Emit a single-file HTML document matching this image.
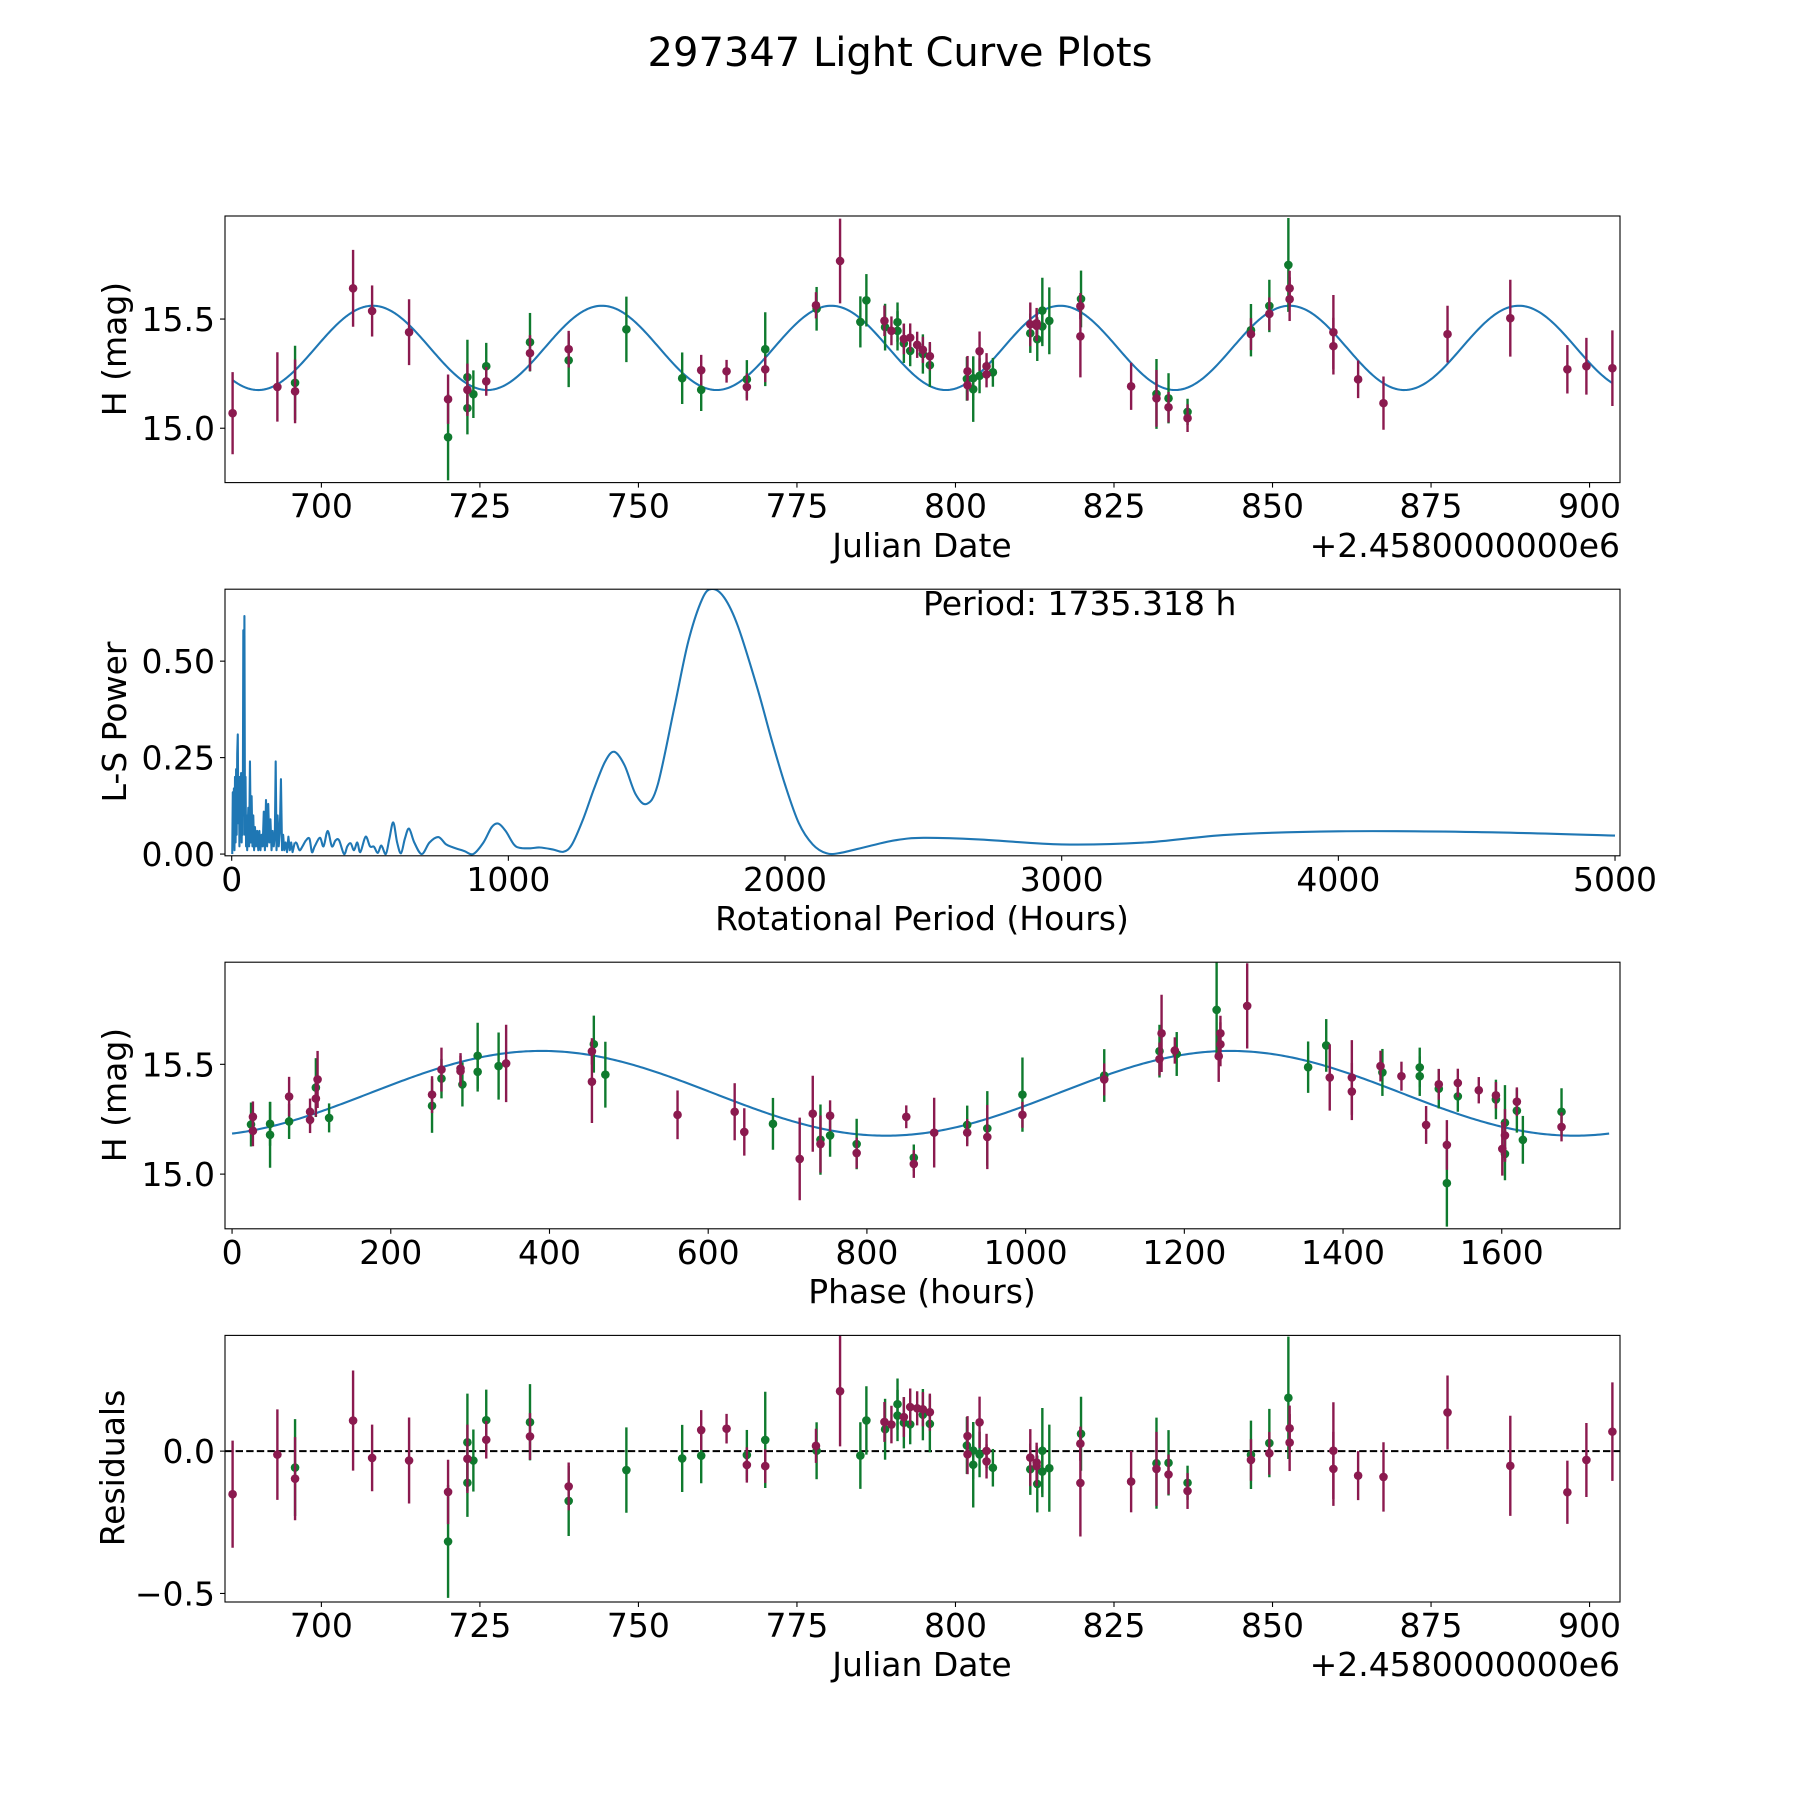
<!DOCTYPE html>
<html><head><meta charset="utf-8"><title>297347 Light Curve Plots</title>
<style>
html,body{margin:0;padding:0;background:#fff;}
svg{display:block;font-family:"DejaVu Sans","Liberation Sans",sans-serif;}
</style></head>
<body>
<svg id="fig" width="1800" height="1800" viewBox="0 0 1800 1800" xmlns="http://www.w3.org/2000/svg">
<rect width="1800" height="1800" fill="#fff"/>
<text x="900" y="66" font-size="40" text-anchor="middle">297347 Light Curve Plots</text>
</svg>
<script>
// ---- observation data (Julian Date offset, H mag, error, band) ----
const obsT   = [686.0,693.06,695.85,695.85,705.0,708.0,713.83,719.98,719.98,723.03,723.03,723.03,723.97,726.0,726.0,732.9,732.9,739.0,739.0,748.1,756.9,
759.9,759.9,763.9,767.1,767.1,770.0,770.0,778.0,778.1,781.8,785.0,785.95,788.8,788.9,789.9,790.86,790.86,791.86,791.86,792.86,792.86,793.96,794.86,794.86,795.96,795.96,
801.9,801.8,801.9,802.8,802.8,803.8,803.8,804.9,804.9,805.9,811.8,811.8,812.8,812.8,812.9,813.7,813.7,814.8,819.8,819.7,819.7,827.7,831.7,831.7,
833.6,833.6,836.6,836.6,846.6,846.6,849.5,849.5,852.5,852.7,852.7,859.6,859.6,863.5,867.5,877.6,887.5,896.5,899.5,903.6];
const obsMag = [15.069,15.189,15.208,15.169,15.641,15.537,15.44,15.133,14.959,15.234,15.176,15.092,15.156,15.284,15.215,15.394,15.344,15.362,15.311,15.453,15.229,
15.266,15.176,15.261,15.224,15.189,15.362,15.27,15.563,15.547,15.766,15.487,15.586,15.492,15.463,15.446,15.486,15.446,15.409,15.389,15.415,15.354,15.382,15.359,15.34,15.33,15.289,
15.261,15.226,15.197,15.229,15.179,15.353,15.24,15.284,15.247,15.256,15.476,15.435,15.481,15.469,15.408,15.539,15.466,15.492,15.592,15.559,15.421,15.192,15.157,15.137,
15.137,15.096,15.075,15.046,15.449,15.431,15.56,15.524,15.748,15.641,15.591,15.44,15.376,15.224,15.115,15.431,15.504,15.27,15.284,15.275];
const obsErr = [0.188,0.159,0.17,0.146,0.176,0.117,0.151,0.113,0.198,0.171,0.12,0.12,0.109,0.107,0.066,0.134,0.082,0.084,0.123,0.15,0.118,
0.07,0.097,0.052,0.088,0.062,0.169,0.059,0.06,0.1,0.194,0.117,0.12,0.07,0.107,0.066,0.09,0.09,0.07,0.09,0.065,0.07,0.06,0.06,0.09,0.065,0.1,
0.07,0.1,0.07,0.1,0.15,0.09,0.08,0.06,0.06,0.066,0.1,0.09,0.07,0.07,0.1,0.15,0.09,0.153,0.13,0.06,0.188,0.108,0.16,0.13,
0.115,0.07,0.06,0.063,0.12,0.073,0.12,0.075,0.215,0.08,0.1,0.17,0.13,0.086,0.122,0.13,0.176,0.111,0.13,0.173];
const obsBand = ["M","M","G","M","M","M","M","M","G","G","M","G","G","G","M","G","M","M","G","G","G",
"M","G","M","G","M","G","M","M","G","M","G","G","M","G","M","G","G","M","G","M","G","M","M","G","M","G",
"M","G","M","G","G","M","G","M","M","G","M","G","M","M","G","G","G","G","G","M","M","M","G","M",
"G","M","G","M","G","M","G","M","G","M","M","M","M","M","M","M","M","M","M","M"];
// ---- model parameters ----
const periodHours = 1735.318;
const modelMean = 15.368, modelAmp = 0.193, modelEpoch = 708.1, phaseRef = 728.5, curvePeakPhase = 390;
// ---- Lomb-Scargle periodogram samples ----
const lsPeriod = [2,4,6,8,10,12,14,16,18,20,22,24,26,28,30,32,34,36,38,40,42,44,46,48,50,52,54,56,60,63,66,69,72,75,78,81,84,88,92,96,100,104,108,112,116,120,124,128,132,136,140,144,148,152,156,159,162,166,170,174,178,182,186,190,195,200,205,210,215,220,228,
235,245,256,268,281,290,300,319,332,347,362,375,388,406,418,430,442,454,465,484,500,514,528,541,557,570,584,598,612,626,641,660,687,715,747,775,801,840,873,910,940,964,990,1020,1042,1080,1114,1160,1199,1230,1270,1310,1350,1383,1420,1460,1500,1540,1600,1650,1700,1735,1780,1830,1900,1950,2000,2050,2100,2150,2200,2300,2400,2500,2700,3000,3300,3600,4000,4500,5000];
const lsPower = [0.0,0.16,0.02,0.17,0.01,0.2,0.03,0.22,0.05,0.26,0.31,0.08,0.2,0.02,0.2,0.1,0.21,0.03,0.15,0.05,0.58,0.1,0.617,0.05,0.2,0.02,0.1,0.01,0.12,0.02,0.24,0.03,0.15,0.02,0.1,0.01,0.07,0.02,0.06,0.01,0.06,0.01,0.05,0.02,0.11,0.01,0.14,0.02,0.13,0.03,0.09,0.01,0.06,0.02,0.05,0.24,0.01,0.1,0.02,0.06,0.194,0.01,0.05,0.01,0.03,0.005,0.045,0.01,0.03,0.005,0.03,
0.028,0.01,0.02,0.035,0.04,0.005,0.02,0.042,0.02,0.06,0.02,0.035,0.036,0.0,0.02,0.028,0.01,0.03,0.005,0.045,0.02,0.019,0.003,0.022,0.0,0.04,0.082,0.03,0.002,0.04,0.066,0.03,0.0,0.03,0.044,0.025,0.017,0.008,0.0,0.03,0.07,0.079,0.06,0.025,0.016,0.015,0.017,0.012,0.006,0.025,0.09,0.17,0.24,0.265,0.23,0.155,0.13,0.18,0.38,0.55,0.66,0.687,0.665,0.59,0.43,0.3,0.18,0.08,0.025,0.002,0.003,0.02,0.036,0.042,0.038,0.025,0.03,0.05,0.059,0.057,0.048];
const jdTicks = [700,725,750,775,800,825,850,875,900];
const lsXTicks = [0,1000,2000,3000,4000,5000];
const lsYTicks = [0,0.25,0.5];
const lsYTickLabels = ["0.00","0.25","0.50"];
const phTicks = [0,200,400,600,800,1000,1200,1400,1600];
const magTicks = [15.0,15.5];
const resTicks = [-0.5,0.0];
const resTickLabels = ["\u22120.5","0.0"];

const NS = "http://www.w3.org/2000/svg";
const svg = document.getElementById("fig");
const BLUE = "#1f77b4", MAG = "#8b1a4f", GRN = "#0f7a2e";
function mk(tag, attrs, parent){ const e=document.createElementNS(NS,tag); for(const k in attrs) e.setAttribute(k,attrs[k]); (parent||svg).appendChild(e); return e; }
function model(t){ return modelMean + modelAmp*Math.cos(2*Math.PI*(t-modelEpoch)/(periodHours/48)); }
function phaseOf(t){ let p=((t-phaseRef)*24)%periodHours; if(p<0)p+=periodHours; return p; }
function modelPhase(p){ return modelMean + modelAmp*Math.cos(4*Math.PI*(p-curvePeakPhase)/periodHours); }

const L=225, R=1620;
function makeAxes(name, top, bottom, xmin, xmax, ymin, ymax){
  const ax={top,bottom,xs:v=>L+(v-xmin)/(xmax-xmin)*(R-L), ys:v=>bottom-(v-ymin)/(ymax-ymin)*(bottom-top)};
  const g=mk("g",{});
  
  
  const cid="clip-"+name;
  const cp=mk("clipPath",{id:cid},g); mk("rect",{x:L,y:top,width:R-L,height:bottom-top},cp);
  ax.g=g; ax.plot=mk("g",{"clip-path":"url(#"+cid+")"},g);
  return ax;
}
function frame(ax){ const r=mk("rect",{x:L,y:ax.top,width:R-L,height:ax.bottom-ax.top,fill:"none",stroke:"#000","stroke-width":1.1},ax.g);   }
function xticks(ax, vals, labels, name){
  vals.forEach((v,i)=>{ const x=ax.xs(v);
    mk("line",{x1:x,x2:x,y1:ax.bottom,y2:ax.bottom+5,stroke:"#000","stroke-width":1.1},ax.g);
    const t=mk("text",{x:x,y:ax.bottom+35,"font-size":33,"text-anchor":"middle"},ax.g); t.textContent=labels[i];
    
    
  });
}
function yticks(ax, vals, labels, name){
  vals.forEach((v,i)=>{ const y=ax.ys(v);
    mk("line",{x1:L-5,x2:L,y1:y,y2:y,stroke:"#000","stroke-width":1.1},ax.g);
    const t=mk("text",{x:L-10,y:y+12,"font-size":33,"text-anchor":"end"},ax.g); t.textContent=labels[i];
    
    
  });
}
function label(ax, txt, x, y, rot, name, anchor){
  const t=mk("text",{x:x,y:y,"font-size":33,"text-anchor":anchor||"middle"},ax.g);
  if(rot) t.setAttribute("transform","rotate(-90 "+x+" "+y+")");
  t.textContent=txt;
  
  
}
function errorbars(ax, xs, ys, errs, bands){
  ["G","M"].forEach(b=>{
    for(let i=0;i<xs.length;i++){ if(bands[i]!==b) continue;
      const c=b==="M"?MAG:GRN, x=ax.xs(xs[i]);
      const l=mk("line",{x1:x,x2:x,y1:ax.ys(ys[i]-errs[i]),y2:ax.ys(ys[i]+errs[i]),stroke:c,"stroke-width":2.4},ax.plot);
      
      
      const d=mk("circle",{cx:x,cy:ax.ys(ys[i]),r:4.3,fill:c},ax.plot);
      
      
    }
  });
}
function polyline(ax, xs, ys, name){
  const pts=xs.map((x,i)=>ax.xs(x).toFixed(2)+","+ax.ys(ys[i]).toFixed(2)).join(" ");
  const p=mk("polyline",{points:pts,fill:"none",stroke:BLUE,"stroke-width":2.1,"stroke-linejoin":"round"},ax.plot);
  
  
}

// ---- Panel 1: light curve ----
const a1=makeAxes("light-curve-panel",216,482.6,684.8,904.8,14.751,15.972);
{ const tx=[],ty=[]; const t0=obsT[0], t1=obsT[obsT.length-1];
  for(let i=0;i<=800;i++){ const t=t0+(t1-t0)*i/800; tx.push(t); ty.push(model(t)); }
  polyline(a1,tx,ty,"model-curve"); }
errorbars(a1,obsT,obsMag,obsErr,obsBand);
frame(a1);
xticks(a1,jdTicks,jdTicks.map(String),"julian-date");
yticks(a1,magTicks,magTicks.map(v=>v.toFixed(1)),"magnitude");
label(a1,"Julian Date",922,557,false,"x-axis-title");
label(a1,"+2.4580000000e6",1620,557,false,"x-offset-text","end");
label(a1,"H (mag)",126,349,true,"y-axis-title");

// ---- Panel 2: periodogram ----
const a2=makeAxes("periodogram-panel",589.2,855.8,-24.2,5018,-0.0045,0.6865);
{ const sx=[],sy=[],cx=[],cy=[];
  lsPeriod.forEach((p,i)=>{ if(p<=230){sx.push(p);sy.push(lsPower[i]);} if(p>=228){cx.push(p);cy.push(lsPower[i]);} });
  polyline(a2,sx,sy,"periodogram-spikes");
  const P=cx.map((x,i)=>[a2.xs(x),a2.ys(cy[i])]);
  let d="M"+P[0][0]+","+P[0][1];
  for(let i=0;i<P.length-1;i++){ const p0=P[Math.max(0,i-1)],p1=P[i],p2=P[i+1],p3=P[Math.min(P.length-1,i+2)];
    d+=" C"+(p1[0]+(p2[0]-p0[0])/6).toFixed(2)+","+(p1[1]+(p2[1]-p0[1])/6).toFixed(2)+" "+(p2[0]-(p3[0]-p1[0])/6).toFixed(2)+","+(p2[1]-(p3[1]-p1[1])/6).toFixed(2)+" "+p2[0].toFixed(2)+","+p2[1].toFixed(2); }
  const pp=mk("path",{d:d,fill:"none",stroke:BLUE,"stroke-width":2.1},a2.plot);
  
  
}
frame(a2);
xticks(a2,lsXTicks,lsXTicks.map(String),"period");
yticks(a2,lsYTicks,lsYTickLabels,"power");
label(a2,"Rotational Period (Hours)",922,930,false,"x-axis-title");
label(a2,"L-S Power",126,722,true,"y-axis-title");
label(a2,"Period: 1735.318 h",923,615,false,"period-annotation","start");

// ---- Panel 3: phased curve ----
const a3=makeAxes("phase-panel",962.2,1228.8,-8.9,1749,14.751,15.965);
{ const px=[],py=[]; for(let i=0;i<=600;i++){ const p=periodHours*i/600; px.push(p); py.push(modelPhase(p)); }
  polyline(a3,px,py,"phase-model-curve"); }
errorbars(a3,obsT.map(phaseOf),obsMag,obsErr,obsBand);
frame(a3);
xticks(a3,phTicks,phTicks.map(String),"phase");
yticks(a3,magTicks,magTicks.map(v=>v.toFixed(1)),"magnitude");
label(a3,"Phase (hours)",922,1303,false,"x-axis-title");
label(a3,"H (mag)",126,1095,true,"y-axis-title");

// ---- Panel 4: residuals ----
const a4=makeAxes("residuals-panel",1335.4,1602,684.8,904.8,-0.530,0.4065);
{ const z=mk("line",{x1:L,x2:R,y1:a4.ys(0),y2:a4.ys(0),stroke:"#000","stroke-width":2,"stroke-dasharray":"7.4,3.2"},a4.plot);
  
   }
errorbars(a4,obsT,obsMag.map((m,i)=>m-model(obsT[i])),obsErr,obsBand);
frame(a4);
xticks(a4,jdTicks,jdTicks.map(String),"julian-date");
yticks(a4,resTicks,resTickLabels,"residual");
label(a4,"Julian Date",922,1676,false,"x-axis-title");
label(a4,"+2.4580000000e6",1620,1676,false,"x-offset-text","end");
label(a4,"Residuals",124,1468,true,"y-axis-title");
</script>
</body></html>
